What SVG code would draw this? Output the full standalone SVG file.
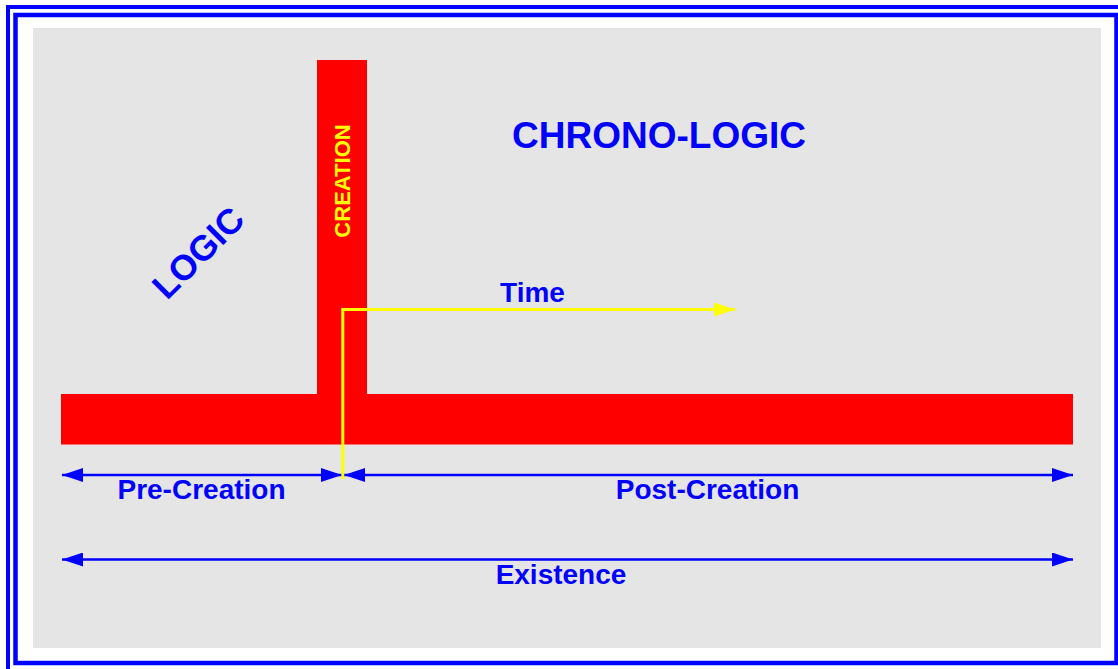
<svg xmlns="http://www.w3.org/2000/svg" width="1118" height="669" viewBox="0 0 1118 669">
<style>
.lbl{font-family:"Liberation Sans",Arial,sans-serif;font-weight:bold;fill:#0000ff;text-anchor:middle}
.blue{stroke:#0000ff;stroke-width:2.5;fill:none}
</style>
<defs>
<marker id="ab" viewBox="0 0 21 14" refX="21" refY="7" markerWidth="21" markerHeight="14" markerUnits="userSpaceOnUse" orient="auto-start-reverse">
<path d="M0,0 L21,7 L0,14 Z" fill="#0000ff"/>
</marker>
<marker id="ay" viewBox="0 0 21 14" refX="21" refY="7" markerWidth="21" markerHeight="14" markerUnits="userSpaceOnUse" orient="auto">
<path d="M0,0 L21,7 L0,14 Z" fill="#ffff00"/>
</marker>
</defs>
<rect width="1118" height="669" fill="#ffffff"/>
<g id="frame">
<rect x="8" y="7" width="1130" height="680" fill="none" stroke="#0000ff" stroke-width="4"/>
<rect x="15.5" y="15" width="1101" height="648" fill="none" stroke="#0000ff" stroke-width="4.5"/>
<rect x="33" y="28" width="1068" height="620" fill="#e5e5e5"/>
</g>
<g id="bars">
<rect x="317" y="60" width="50" height="340" fill="#ff0000"/>
<rect x="61" y="394" width="1012" height="50.5" fill="#ff0000"/>
</g>
<g id="labels">
<text class="lbl" x="659" y="148" font-size="37">CHRONO-LOGIC</text>
<text class="lbl" font-size="35.5" transform="translate(198,252.5) rotate(-45)" x="0" y="12.5">LOGIC</text>
<text font-family="Liberation Sans,Arial,sans-serif" font-weight="bold" font-size="22" fill="#ffff00" text-anchor="middle" transform="translate(341.5,181) rotate(-90)" x="0" y="8">CREATION</text>
<text class="lbl" x="532.5" y="302" font-size="28">Time</text>
<text class="lbl" x="201.5" y="499" font-size="28">Pre-Creation</text>
<text class="lbl" x="707.5" y="499" font-size="28">Post-Creation</text>
<text class="lbl" x="561" y="584" font-size="28">Existence</text>
</g>
<g id="connectors">
<line class="blue" x1="62" y1="475" x2="342" y2="475" marker-start="url(#ab)" marker-end="url(#ab)"/>
<line class="blue" x1="344" y1="475" x2="1073" y2="475" marker-start="url(#ab)" marker-end="url(#ab)"/>
<line class="blue" x1="62" y1="559.5" x2="1073" y2="559.5" marker-start="url(#ab)" marker-end="url(#ab)"/>
<polyline points="342.8,479 342.8,309.5 735,309.5" fill="none" stroke="#ffff00" stroke-width="3" marker-end="url(#ay)"/>
</g>
</svg>
